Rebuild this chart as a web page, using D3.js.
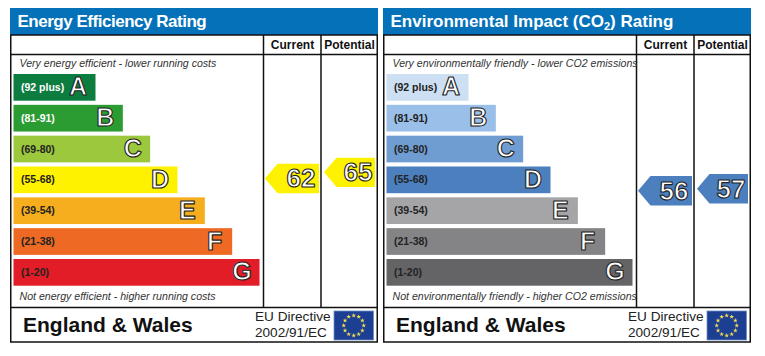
<!DOCTYPE html>
<html>
<head>
<meta charset="utf-8">
<script src="https://cdn.jsdelivr.net/npm/d3@7"></script>
<style>
    html, body { margin: 0; padding: 0; background: #fff; }
    svg { display: block; }
    text { font-family: "Liberation Sans", Arial, sans-serif; }
    .glyph { font-weight: bold; stroke-linejoin: round; }
</style>
</head>
<body>
<div id="chart"></div>
<script>
const bandLetters = ["A", "B", "C", "D", "E", "F", "G"];
const bandRanges = ["(92 plus)", "(81-91)", "(69-80)", "(55-68)", "(39-54)", "(21-38)", "(1-20)"];
// bar length, in steps of the staircase
const bandLengths = [3, 4, 5, 6, 7, 8, 9];

const energyColors = ["#0d7d3f", "#2b9c32", "#9bc83c", "#fff200", "#f6ad1e", "#ee6a24", "#e21d27"];
const energyLabelColors = ["#fff", "#fff", "#222", "#222", "#222", "#222", "#222"];
const energyCurrent = 62;
const energyPotential = 65;

const co2Colors = ["#cde0f3", "#9abfe8", "#709dd1", "#4b7fbe", "#a5a5a7", "#848486", "#646466"];
const co2LabelColors = ["#222", "#222", "#222", "#222", "#222", "#222", "#222"];
const co2Current = 56;
const co2Potential = 57;

const columnNames = ["Current", "Potential"];
const blue = "#0471b9";
const ink = "#111";

const svg = d3.select("#chart")
    .append("svg")
    .attr("width", 765)
    .attr("height", 356);

// shared scales, panel coordinates
const xScale = d3.scaleLinear().domain([0, 9]).range([3.5, 249.5]);
const yScale = d3.scaleBand().domain(bandLetters).range([74, 285.7]).paddingInner(0.134).paddingOuter(0);
const ratingScale = d3.scaleLinear().domain([1, 100]).range([303.5, 100.6]);

function bandFor(value) {
    if (value >= 92) return 0;
    if (value >= 81) return 1;
    if (value >= 69) return 2;
    if (value >= 55) return 3;
    if (value >= 39) return 4;
    if (value >= 21) return 5;
    return 6;
}

function panel(offset, opt) {
    const g = svg.append("g").attr("transform", `translate(${offset}, 0)`);

    g.append("rect")
        .attr("x", 0).attr("y", 8)
        .attr("width", 368).attr("height", 27)
        .attr("fill", blue);

    const title = g.append("text")
        .attr("x", 7.5).attr("y", 26.5)
        .attr("fill", "#fff")
        .style("font-weight", "bold")
        .style("font-size", "17px")
        .style("letter-spacing", opt.titleSpacing);
    opt.title.forEach(t => {
        title.append("tspan")
            .attr("dy", t.dy)
            .style("font-size", t.size)
            .text(t.text);
    });

    // frame
    g.append("rect")
        .attr("x", 0.75).attr("y", 35)
        .attr("width", 366.5).attr("height", 307)
        .attr("fill", "none").attr("stroke", ink).attr("stroke-width", 1.5);
    [54.5, 307.5].forEach(y => {
        g.append("line")
            .attr("x1", 0).attr("x2", 368)
            .attr("y1", y).attr("y2", y)
            .attr("stroke", ink).attr("stroke-width", 1.5);
    });
    [253.5, 311].forEach(x => {
        g.append("line")
            .attr("x1", x).attr("x2", x)
            .attr("y1", 35).attr("y2", 307.5)
            .attr("stroke", ink).attr("stroke-width", 1.5);
    });

    g.selectAll(".column")
        .data(columnNames)
        .enter()
        .append("text")
        .attr("class", "column")
        .attr("x", (d, i) => i == 0 ? 282.5 : 339.5)
        .attr("y", 49)
        .attr("text-anchor", "middle")
        .attr("fill", "#111")
        .style("font-weight", "bold")
        .style("font-size", "12px")
        .text(d => d);

    g.append("text")
        .attr("x", 9.5).attr("y", 66.5)
        .attr("fill", "#333")
        .style("font-style", "italic")
        .style("font-size", "10.6px")
        .text(opt.top);

    g.append("text")
        .attr("x", 9.5).attr("y", 300)
        .attr("fill", "#333")
        .style("font-style", "italic")
        .style("font-size", "10.6px")
        .text(opt.bottom);

    const bars = g.selectAll(".band")
        .data(bandLetters)
        .enter()
        .append("g")
        .attr("class", "band");

    bars.append("rect")
        .attr("x", xScale(0))
        .attr("y", d => yScale(d))
        .attr("width", (d, i) => xScale(bandLengths[i]) - xScale(0))
        .attr("height", yScale.bandwidth())
        .attr("fill", (d, i) => opt.colors[i]);

    bars.append("text")
        .attr("x", 11)
        .attr("y", d => yScale(d) + yScale.bandwidth() / 2 + 3.5)
        .attr("fill", (d, i) => opt.labelColors[i])
        .style("font-weight", "bold")
        .style("font-size", "10.5px")
        .text((d, i) => bandRanges[i]);

    bars.append("text")
        .attr("class", "glyph")
        .attr("x", (d, i) => xScale(bandLengths[i]) - 17.5)
        .attr("y", d => yScale(d) + yScale.bandwidth() / 2 + 8)
        .attr("text-anchor", "middle")
        .attr("fill", "#fff")
        .attr("stroke", "#222")
        .attr("stroke-width", 1.1)
        .style("font-size", "25px")
        .text(d => d);

    // rating arrows
    const arrows = [
        { value: opt.current, tip: 255, right: 309, textX: 291 },
        { value: opt.potential, tip: 314, right: 365, textX: 348 }
    ];
    arrows.forEach(a => {
        const cy = ratingScale(a.value);
        const h = 14.7;
        const p = d3.path();
        p.moveTo(a.tip, cy);
        p.lineTo(a.tip + 12.5, cy - h);
        p.lineTo(a.right, cy - h);
        p.lineTo(a.right, cy + h);
        p.lineTo(a.tip + 12.5, cy + h);
        p.closePath();
        g.append("path")
            .attr("d", p.toString())
            .attr("fill", opt.colors[bandFor(a.value)]);
        g.append("text")
            .attr("class", "glyph")
            .attr("x", a.textX)
            .attr("y", cy + 9)
            .attr("text-anchor", "middle")
            .attr("fill", "#fff")
            .attr("stroke", "#222")
            .attr("stroke-width", 1.1)
            .style("font-size", "26px")
            .text(a.value);
    });

    // footer
    g.append("text")
        .attr("x", 13).attr("y", 332)
        .attr("fill", "#111")
        .style("font-weight", "bold")
        .style("font-size", "21px")
        .text("England & Wales");

    g.append("text")
        .attr("x", 245).attr("y", 321)
        .attr("fill", "#222")
        .style("font-size", "13.6px")
        .text("EU Directive");
    g.append("text")
        .attr("x", 245).attr("y", 337)
        .attr("fill", "#222")
        .style("font-size", "13.6px")
        .text("2002/91/EC");

    // EU flag
    g.append("rect")
        .attr("x", 324).attr("y", 311)
        .attr("width", 39.5).attr("height", 29)
        .attr("fill", "#1c3f94")
        .attr("stroke", "#6f8fc4")
        .attr("stroke-width", 0.8);
    const star = d3.symbol().type(d3.symbolStar).size(7);
    g.selectAll(".star")
        .data(d3.range(12))
        .enter()
        .append("path")
        .attr("class", "star")
        .attr("d", star)
        .attr("fill", "#f4e04d")
        .attr("transform", d => {
            const a = d / 12 * 2 * Math.PI;
            return `translate(${343.7 + 10 * Math.sin(a)}, ${325.5 - 10 * Math.cos(a)})`;
        });
}

panel(10, {
    title: [{ text: "Energy Efficiency Rating" }],
    titleSpacing: "-0.48px",
    top: "Very energy efficient - lower running costs",
    bottom: "Not energy efficient - higher running costs",
    colors: energyColors,
    labelColors: energyLabelColors,
    current: energyCurrent,
    potential: energyPotential
});

panel(383, {
    title: [
        { text: "Environmental Impact (CO" },
        { text: "2", dy: 3, size: "11px" },
        { text: ") Rating", dy: -3 }
    ],
    titleSpacing: "0",
    top: "Very environmentally friendly - lower CO2 emissions",
    bottom: "Not environmentally friendly - higher CO2 emissions",
    colors: co2Colors,
    labelColors: co2LabelColors,
    current: co2Current,
    potential: co2Potential
});
</script>
</body>
</html>
